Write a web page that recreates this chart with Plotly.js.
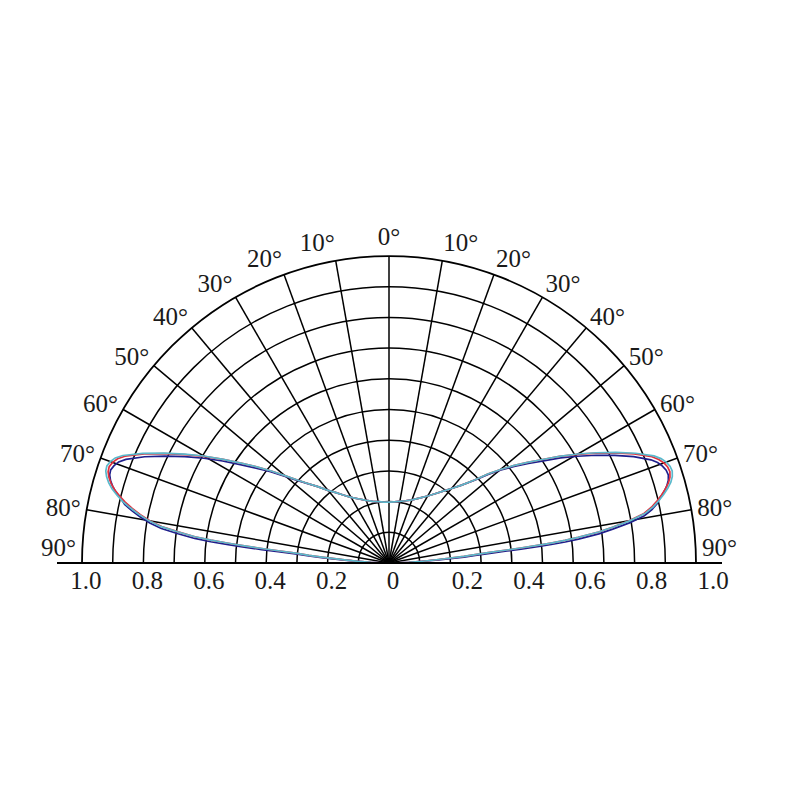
<!DOCTYPE html>
<html>
<head>
<meta charset="utf-8">
<script src="https://cdn.plot.ly/plotly-3.0.1.min.js"></script>
<style>html,body{margin:0;padding:0;background:#fff;}#chart{width:800px;height:800px;}</style>
</head>
<body>
<div id="chart"></div>
<script>
// Angles in degrees (0 = straight up, negative = left half, positive = right half)
const thetaShared = [-90,-89,-88,-87,-86,-85,-84.5,-84,-83.7,-83.5,-83.2,-83,-82.7,-82.3,-81.6,-80.9,-80,-79,-78,-77,-76,-75,-74,-73,-72,-71,-70,-69,-68,-66,-64,-62,-60,-58,-56,-54,-52,-50,-48,-46,-43,-40,-37,-34,-30,-25,-20,-15,-10,-5,0,5,10,15,20,25,30,34,37,40,43,46,48,50,52,54,56,58,60,62,64,66,68,69,70,71,72,73,74,75,76,77,78,79,80,80.9,81.6,82.3,82.7,83,83.2,83.5,83.7,84,84.5,85,86,87,88,89,90];

const redR = [0,0.03,0.06,0.10,0.145,0.22,0.262,0.30,0.363,0.417,0.48,0.527,0.585,0.638,0.694,0.75,0.79,0.825,0.855,0.882,0.905,0.926,0.942,0.954,0.962,0.964,0.958,0.947,0.928,0.873,0.812,0.752,0.695,0.637,0.582,0.533,0.487,0.443,0.405,0.375,0.34,0.309,0.287,0.267,0.247,0.23,0.217,0.208,0.203,0.199,0.198,0.2,0.204,0.21,0.219,0.233,0.252,0.273,0.293,0.317,0.347,0.39,0.433,0.474,0.515,0.558,0.603,0.655,0.708,0.762,0.818,0.874,0.924,0.941,0.953,0.96,0.962,0.957,0.947,0.932,0.915,0.895,0.874,0.846,0.796,0.737,0.69,0.622,0.578,0.532,0.497,0.432,0.386,0.33,0.282,0.245,0.162,0.11,0.065,0.03,0];

const cyanR = [0,0.03,0.06,0.10,0.145,0.22,0.262,0.30,0.363,0.417,0.48,0.527,0.585,0.638,0.697,0.754,0.795,0.83,0.861,0.89,0.913,0.934,0.95,0.962,0.97,0.972,0.966,0.955,0.935,0.878,0.816,0.755,0.697,0.637,0.582,0.533,0.487,0.443,0.405,0.375,0.34,0.309,0.287,0.267,0.247,0.23,0.217,0.208,0.203,0.199,0.198,0.2,0.204,0.21,0.219,0.233,0.252,0.273,0.293,0.317,0.347,0.39,0.433,0.474,0.515,0.558,0.603,0.655,0.71,0.765,0.822,0.879,0.931,0.949,0.961,0.968,0.97,0.965,0.955,0.94,0.922,0.902,0.88,0.851,0.8,0.74,0.69,0.622,0.578,0.532,0.497,0.432,0.386,0.33,0.282,0.245,0.162,0.11,0.065,0.03,0];

const navyTheta = [-90,-89,-88,-87,-86.3,-85.5,-85,-84.5,-84.2,-84,-83.7,-83.5,-83.2,-82.8,-82.1,-81.4,-80.5,-79.5,-78.5,-77.5,-76.5,-75.5,-74.5,-73.5,-72.5,-71.5,-70.5,-69.5,-68.5,-66.5,-64.5,-62.5,-60.5,-58.5,-56.5,-54.5,-52.4,-50.3,-48.2,-46.1,-43,-40,-37,-34,-30,-25,-20,-15,-10,-5,0,5,10,15,20,25,30,34,37,40,43,46.1,48.2,50.3,52.4,54.5,56.5,58.5,60.5,62.5,64.5,66.5,68.5,69.5,70.5,71.5,72.5,73.5,74.5,75.5,76.5,77.5,78.5,79.5,80.5,81.4,82.1,82.8,83.2,83.5,83.7,84,84.2,84.5,85,85.5,86.3,87,88,89,90];

const navyR = [0,0.03,0.06,0.10,0.145,0.22,0.262,0.30,0.363,0.417,0.48,0.527,0.585,0.638,0.694,0.75,0.79,0.825,0.855,0.882,0.898,0.918,0.934,0.946,0.954,0.956,0.95,0.94,0.921,0.868,0.809,0.75,0.693,0.636,0.581,0.532,0.487,0.443,0.405,0.375,0.34,0.309,0.287,0.267,0.247,0.23,0.217,0.208,0.203,0.199,0.198,0.2,0.204,0.21,0.219,0.233,0.252,0.273,0.293,0.317,0.347,0.39,0.433,0.474,0.515,0.558,0.603,0.655,0.706,0.76,0.815,0.869,0.917,0.934,0.945,0.952,0.954,0.949,0.939,0.925,0.908,0.895,0.874,0.846,0.796,0.737,0.69,0.622,0.578,0.532,0.497,0.432,0.386,0.33,0.282,0.245,0.162,0.11,0.065,0.03,0];

// Tick labels
const angleTickVals = [-90,-80,-70,-60,-50,-40,-30,-20,-10,0,10,20,30,40,50,60,70,80,90];
const angleTickText = ['90°<br> ','80°','70°','60°','50°','40°','30°','20°','10°','0°','10°','20°','30°','40°','50°','60°','70°','80°','90°<br> '];
// Intensity scale along the base line (left half shown as negative positions)
const baseTickValsLeft = [-1.0,-0.8,-0.6,-0.4,-0.2,0];
const baseTickTextLeft = ['1.0','0.8','0.6','0.4','0.2','0'];
const baseTickValsRight = [0.2,0.4,0.6,0.8,1.0];
const baseTickTextRight = ['0.2','0.4','0.6','0.8','1.0'];

const FONT = 'Liberation Serif';
const tickFont = {family: FONT, size: 25, color: '#1a1a1a'};

const traces = [
  {type:'scatterpolar', mode:'lines', r: navyR, theta: navyTheta, subplot:'polar',
   line:{color:'#1f1f8c', width:1.7}, hoverinfo:'skip'},
  {type:'scatterpolar', mode:'lines', r: redR, theta: thetaShared, subplot:'polar',
   line:{color:'#e2303c', width:1.7}, hoverinfo:'skip'},
  {type:'scatterpolar', mode:'lines', r: cyanR, theta: thetaShared, subplot:'polar',
   line:{color:'#5ab9cc', width:1.7}, hoverinfo:'skip'},
  // empty cartesian traces so the base-line axes are drawn
  {type:'scatter', mode:'lines', x:[], y:[], xaxis:'x', yaxis:'y', hoverinfo:'skip'},
  {type:'scatter', mode:'lines', x:[], y:[], xaxis:'x2', yaxis:'y', hoverinfo:'skip'}
];

const baseDomain = [0.070625, 0.901875];
const baseRange = [-1.083, 1.083];

const layout = {
  width: 800, height: 800,
  margin: {l:0, r:0, t:0, b:0},
  paper_bgcolor: '#fff',
  plot_bgcolor: 'rgba(0,0,0,0)',
  showlegend: false,
  xaxis: {
    domain: baseDomain, range: baseRange, anchor: 'y',
    tickmode: 'array', tickvals: baseTickValsLeft, ticktext: baseTickTextLeft,
    ticklabelshift: 4, ticklabelstandoff: 0, ticklen: 0,
    showgrid: false, zeroline: false, showline: false,
    ticks: '', tickfont: tickFont, fixedrange: true
  },
  xaxis2: {
    domain: baseDomain, range: baseRange, anchor: 'y', overlaying: 'x', side: 'bottom',
    tickmode: 'array', tickvals: baseTickValsRight, ticktext: baseTickTextRight,
    ticklabelshift: 17, ticklabelstandoff: 0, ticklen: 0,
    showgrid: false, zeroline: false, showline: false,
    ticks: '', tickfont: tickFont, fixedrange: true
  },
  yaxis: {
    domain: [0.29625, 0.5], range: [-0.001, 1], fixedrange: true,
    showticklabels: false, showgrid: false, showline: false, ticks: '',
    zeroline: true, zerolinecolor: '#000', zerolinewidth: 1.8
  },
  polar: {
    domain: {x:[0.1025, 0.87], y:[0.29625, 0.68]},
    sector: [0, 180],
    bgcolor: 'rgba(0,0,0,0)',
    radialaxis: {
      range: [0, 1], dtick: 0.1, tick0: 0,
      showgrid: true, gridcolor: '#000', gridwidth: 1.5,
      showline: false, showticklabels: false, ticks: ''
    },
    angularaxis: {
      rotation: 90, direction: 'clockwise', thetaunit: 'degrees',
      tickmode: 'array', tickvals: angleTickVals, ticktext: angleTickText,
      showgrid: true, gridcolor: '#000', gridwidth: 1.5,
      showline: true, linecolor: '#000', linewidth: 1.8,
      ticks: '', tickfont: tickFont
    }
  }
};

Plotly.newPlot('chart', traces, layout, {staticPlot: true, displayModeBar: false});
</script>
</body>
</html>
